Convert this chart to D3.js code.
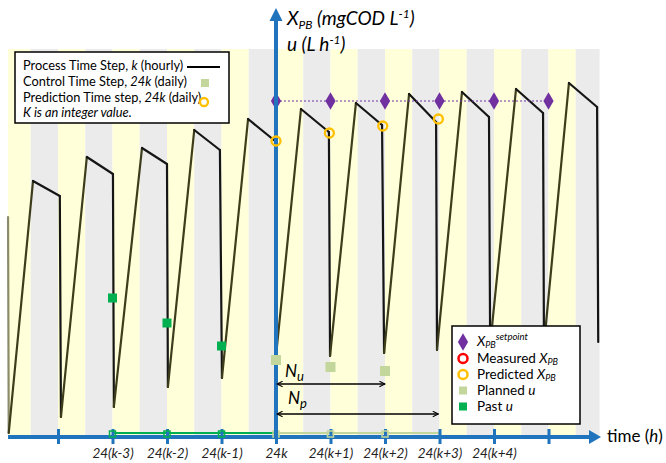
<!DOCTYPE html>
<html><head><meta charset="utf-8">
<script src="https://cdn.jsdelivr.net/npm/d3@7"></script>
<style>
body{margin:0;background:#fff;}
svg{display:block;font-family:Lato,"Open Sans",sans-serif;}
</style></head><body>
<svg id="c" width="666" height="463"></svg>
<script>
// ---- data ----
const processHours  = [-118,-117.7,-107,-95.2,-94.7,-83.3,-71.8,-71.4,-59,-48,-47.6,-36,-24.7,-23.8,-12.3,-0.4,0,11,23.3,23.8,35.2,46.7,47.6,58.6,70.5,70.9,81.9,93.8,94.3,105.7,117.6,118,129,141.4,141.9];
const processValues = [55,1,64,60.25,5,70,65.75,7.5,72.25,68.25,12.5,76.75,71.75,14.75,79.5,74,20.25,82,76.25,20.25,83.5,78,21,85.75,78.75,21.75,86.25,80,23,87,81,23,88.5,82.5,23.75];
const setpointHours = [0,24,48,72,96,120];
const setpointValue = 84;
const predictedHours = [0,23.5,47,71.5];
const predictedValues = [74,76,77.75,79.5];
const plannedHours = [0,24,48];
const plannedValues = [19.25,17.5,16.5];
const pastHours = [-72,-48,-24];
const pastValues = [34.75,28.5,22.75];
const pastBaseHours = [-72,-48,-24,0];
const plannedBaseHours = [0,24,48,72];
const baseValue = 1;
const tickHours = [-96,-72,-48,-24,0,24,48,72,96,120];
const tickLabels = ["","24(k-3)","24(k-2)","24(k-1)","24k","24(k+1)","24(k+2)","24(k+3)","24(k+4)",""];
const NuHours = [0,48], NuValue = 13.25;
const NpHours = [0,71.5], NpValue = 5.75;
const stripeRange = [-118,142.5];

// ---- scales ----
const x = d3.scaleLinear().domain([-120,120]).range([3.5,548.5]);
const y = d3.scaleLinear().domain([0,100]).range([437,37]);

const BLUE="#1F74BD", YEL="#FFFFD9", GRAY="#EBEBEB", OLIVE="#3d3d1c", PURPLE="#7030A0",
      ORANGE="#FFC000", LGREEN="#C3D69B", GREEN="#00B050";

const svg = d3.select("#c");

// background stripes (12h yellow / 12h gray)
const stripes=[];
for(let j=-6;j<=6;j++){
  stripes.push({a:24*j,b:24*j+12,c:YEL});
  stripes.push({a:24*j+12,b:24*j+24,c:GRAY});
}
svg.append("g").selectAll("rect").data(stripes.filter(s=>s.b>stripeRange[0]&&s.a<stripeRange[1]))
  .join("rect")
  .attr("x",d=>x(Math.max(d.a,stripeRange[0])))
  .attr("width",d=>x(Math.min(d.b,stripeRange[1]))-x(Math.max(d.a,stripeRange[0])))
  .attr("y",y(97)).attr("height",y(0)-y(97))
  .attr("fill",d=>d.c);

// process curve segments
const segs=[];
for(let i=0;i<processHours.length-1;i++){
  segs.push({x1:processHours[i],y1:processValues[i],x2:processHours[i+1],y2:processValues[i+1],i});
}
svg.append("g").selectAll("line").data(segs).join("line")
  .attr("x1",d=>x(d.x1)).attr("y1",d=>y(d.y1))
  .attr("x2",d=>x(d.x2)).attr("y2",d=>y(d.y2))
  .attr("stroke",d=>(d.y2>d.y1||d.i===0)?OLIVE:"#151515")
  .attr("stroke-opacity",d=>d.i===0?0.6:1)
  .attr("stroke-width",2.2)
  .attr("stroke-linecap","round");

// setpoint dotted line + diamonds
svg.append("line")
  .attr("x1",x(setpointHours[0])).attr("x2",x(setpointHours[setpointHours.length-1]))
  .attr("y1",y(setpointValue)).attr("y2",y(setpointValue))
  .attr("stroke",PURPLE).attr("stroke-width",1).attr("stroke-dasharray","2,2");
const diamond = d3.symbol().type(d3.symbolDiamond).size(90);
svg.append("g").selectAll("path").data(setpointHours).join("path")
  .attr("d",diamond)
  .attr("transform",d=>`translate(${x(d)},${y(setpointValue)})`)
  .attr("fill",PURPLE);

// bottom u lines (past / planned)
svg.append("line").attr("x1",x(pastBaseHours[0])).attr("x2",x(pastBaseHours[pastBaseHours.length-1]))
  .attr("y1",y(baseValue)).attr("y2",y(baseValue)).attr("stroke",GREEN).attr("stroke-width",2);
svg.append("line").attr("x1",x(plannedBaseHours[0])).attr("x2",x(plannedBaseHours[plannedBaseHours.length-1]))
  .attr("y1",y(baseValue)).attr("y2",y(baseValue)).attr("stroke",LGREEN).attr("stroke-width",2);

// x axis main line + arrow
svg.append("line").attr("x1",x(-118)).attr("x2",592).attr("y1",y(0)).attr("y2",y(0))
  .attr("stroke",BLUE).attr("stroke-width",4);
svg.append("path").attr("d",`M601,${y(0)} L589,${y(0)-7} L589,${y(0)+7} Z`).attr("fill",BLUE);

// ticks via axis
const ax = d3.axisBottom(x).tickValues(tickHours).tickSizeInner(15).tickSizeOuter(0).tickPadding(4)
  .tickFormat((d,i)=>tickLabels[i]);
const gax = svg.append("g").attr("transform",`translate(0,${y(0)-8})`).call(ax);
gax.select(".domain").remove();
gax.selectAll(".tick line").attr("stroke",BLUE).attr("stroke-width",3);
gax.selectAll(".tick text").attr("fill","#222").attr("font-size",13.5).attr("font-style","italic")
  .attr("font-family","Lato, 'Open Sans', sans-serif");

// hollow small squares on baseline
const sq = (g,data,color)=>g.selectAll("rect").data(data).join("rect")
  .attr("x",d=>x(d)-3).attr("y",y(baseValue)-2).attr("width",6).attr("height",6)
  .attr("fill","none").attr("stroke",color).attr("stroke-width",1.5);
sq(svg.append("g"),pastHours,GREEN);
sq(svg.append("g"),plannedHours,LGREEN);

// y axis
svg.append("line").attr("x1",x(0)).attr("x2",x(0)).attr("y1",y(0)+2).attr("y2",20)
  .attr("stroke",BLUE).attr("stroke-width",4);
svg.append("path").attr("d",`M${x(0)},8 L${x(0)-6.5},21 L${x(0)+6.5},21 Z`).attr("fill",BLUE);

// predicted circles
svg.append("g").selectAll("circle").data(predictedHours).join("circle")
  .attr("cx",d=>x(d)).attr("cy",(d,i)=>y(predictedValues[i])).attr("r",4.5)
  .attr("fill","none").attr("stroke",ORANGE).attr("stroke-width",2.3);

// planned u squares
svg.append("g").selectAll("rect").data(plannedHours).join("rect")
  .attr("x",d=>x(d)-5).attr("y",(d,i)=>y(plannedValues[i])-5).attr("width",10).attr("height",10)
  .attr("fill",LGREEN);
// past u squares
svg.append("g").selectAll("rect").data(pastHours).join("rect")
  .attr("x",d=>x(d)-4.5).attr("y",(d,i)=>y(pastValues[i])-4.5).attr("width",9).attr("height",9)
  .attr("fill",GREEN);

// Nu / Np arrows
const defs=svg.append("defs");
defs.append("marker").attr("id","ah").attr("viewBox","0 0 10 10").attr("refX",9).attr("refY",5)
  .attr("markerWidth",7).attr("markerHeight",7).attr("orient","auto-start-reverse")
  .attr("markerUnits","userSpaceOnUse")
  .append("path").attr("d","M1,1 L9,5 L1,9").attr("fill","none").attr("stroke","#000").attr("stroke-width",1.5);
[[NuHours,NuValue],[NpHours,NpValue]].forEach(([h,v])=>{
  svg.append("line").attr("x1",x(h[0])+1).attr("x2",x(h[1])).attr("y1",y(v)).attr("y2",y(v))
    .attr("stroke","#000").attr("stroke-width",1.3)
    .attr("marker-start","url(#ah)").attr("marker-end","url(#ah)");
});
const nlab=(tx,ty,sub)=>{const t=svg.append("text").attr("x",tx).attr("y",ty).attr("font-size",17).attr("font-style","italic");
  t.append("tspan").text("N"); t.append("tspan").attr("dy",4).attr("font-size",13).text(sub);};
nlab(285,377,"u");
nlab(288,404,"p");

// axis labels
const yl1=svg.append("text").attr("x",287).attr("y",25).attr("font-size",19).attr("font-style","italic");
yl1.append("tspan").text("X");
yl1.append("tspan").attr("dy",4).attr("font-size",12).text("PB");
yl1.append("tspan").attr("dy",-4).text(" (mgCOD L");
yl1.append("tspan").attr("dy",-7).attr("font-size",12).text("-1");
yl1.append("tspan").attr("dy",7).text(")");
const yl2=svg.append("text").attr("x",287).attr("y",51).attr("font-size",19).attr("font-style","italic");
yl2.append("tspan").text("u (L h");
yl2.append("tspan").attr("dy",-7).attr("font-size",12).text("-1");
yl2.append("tspan").attr("dy",7).text(")");
const tl=svg.append("text").attr("x",607).attr("y",442).attr("font-size",17);
tl.append("tspan").text("time (");
tl.append("tspan").attr("font-style","italic").text("h");
tl.append("tspan").text(")");

// legend 1
const L1=svg.append("g");
L1.append("rect").attr("x",15).attr("y",52).attr("width",214).attr("height",71)
  .attr("fill","#fff").attr("stroke","#000").attr("stroke-width",1.5);
const row=(yy,parts)=>{const t=L1.append("text").attr("x",23).attr("y",yy).attr("font-size",12.8);
  parts.forEach(p=>t.append("tspan").attr("font-style",p[1]?"italic":"normal").text(p[0]));};
row(70,[["Process Time Step, ",0],["k",1],[" (hourly)",0]]);
row(86,[["Control Time Step, ",0],["24k",1],[" (daily)",0]]);
row(102,[["Prediction Time step, ",0],["24k",1],[" (daily)",0]]);
row(117,[["K is an integer value.",1]]);
L1.append("line").attr("x1",187).attr("x2",220).attr("y1",67).attr("y2",67).attr("stroke","#000").attr("stroke-width",2);
L1.append("rect").attr("x",201).attr("y",79).attr("width",8).attr("height",8).attr("fill",LGREEN);
L1.append("circle").attr("cx",204).attr("cy",102).attr("r",4).attr("fill","none").attr("stroke",ORANGE).attr("stroke-width",2.3);

// legend 2
const L2=svg.append("g");
L2.append("rect").attr("x",452).attr("y",326).attr("width",128).attr("height",98)
  .attr("fill","#fff").attr("stroke","#000").attr("stroke-width",1.5);
const base=[346,363,379,395,411];
L2.append("path").attr("d",diamond).attr("transform",`translate(463,${base[0]-4})`).attr("fill",PURPLE);
L2.append("circle").attr("cx",463).attr("cy",base[1]-4.5).attr("r",4.5).attr("fill","none").attr("stroke","#FF0000").attr("stroke-width",2.5);
L2.append("circle").attr("cx",463).attr("cy",base[2]-4.5).attr("r",4.5).attr("fill","none").attr("stroke",ORANGE).attr("stroke-width",2.5);
L2.append("rect").attr("x",459).attr("y",base[3]-8.5).attr("width",8).attr("height",8).attr("fill",LGREEN);
L2.append("rect").attr("x",459).attr("y",base[4]-8.5).attr("width",8).attr("height",8).attr("fill",GREEN);
const FS=13.5;
const t1=L2.append("text").attr("x",477).attr("y",base[0]).attr("font-size",FS).attr("font-style","italic");
t1.append("tspan").text("X"); t1.append("tspan").attr("dy",2).attr("font-size",9).text("PB");
t1.append("tspan").attr("dy",-8).attr("font-size",9.5).text("setpoint");
const t2=L2.append("text").attr("x",477).attr("y",base[1]).attr("font-size",FS);
t2.append("tspan").text("Measured "); t2.append("tspan").attr("font-style","italic").text("X");
t2.append("tspan").attr("font-style","italic").attr("dy",2).attr("font-size",9).text("PB");
const t3=L2.append("text").attr("x",477).attr("y",base[2]).attr("font-size",FS);
t3.append("tspan").text("Predicted "); t3.append("tspan").attr("font-style","italic").text("X");
t3.append("tspan").attr("font-style","italic").attr("dy",2).attr("font-size",9).text("PB");
const t4=L2.append("text").attr("x",477).attr("y",base[3]).attr("font-size",FS);
t4.append("tspan").text("Planned "); t4.append("tspan").attr("font-style","italic").text("u");
const t5=L2.append("text").attr("x",477).attr("y",base[4]).attr("font-size",FS);
t5.append("tspan").text("Past "); t5.append("tspan").attr("font-style","italic").text("u");
</script>
</body></html>
